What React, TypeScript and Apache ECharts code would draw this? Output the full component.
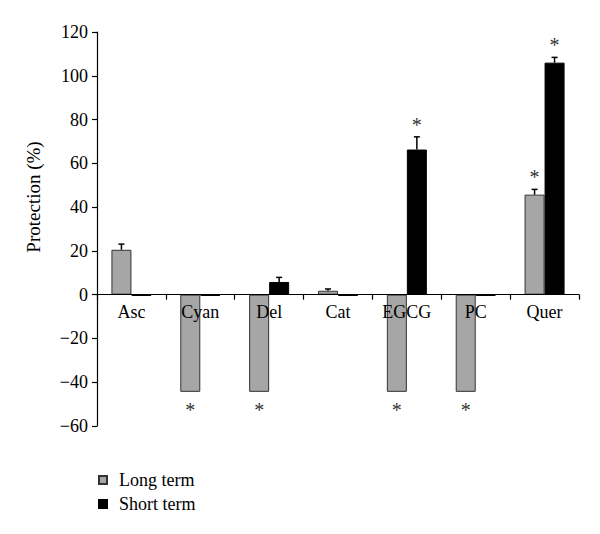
import React, { useEffect, useRef } from "react";
import * as echarts from "echarts";

const categories = ["Asc", "Cyan", "Del", "Cat", "EGCG", "PC", "Quer"];
const longTerm = [20.5, -44.4, -44.4, 1.8, -44.4, -44.4, 45.7];
const shortTerm = [-0.6, -0.6, 5.8, -0.6, 66.3, -0.6, 106.0];
const longErr = [2.6, 0, 0, 0.8, 0, 0, 2.4];
const shortErr = [0, 0, 2.1, 0, 5.8, 0, 2.4];
const longSig = [0, 1, 1, 0, 1, 1, 1];
const shortSig = [0, 0, 0, 0, 1, 0, 1];
const yTicks = { min: -60, max: 120, interval: 20 };

const FONT = "'Liberation Serif', 'DejaVu Serif', serif";
const GRID_TOP = 32;
const GRID_BOTTOM = 108;
const GRID_H = 534 - GRID_TOP - GRID_BOTTOM;
const zeroOffset = -(GRID_H * (0 - yTicks.min)) / (yTicks.max - yTicks.min);

function makeRender(offset: number) {
  return (params: any, api: any) => {
    const idx = api.value(0);
    const val = api.value(1);
    const err = api.value(2);
    const sig = api.value(3);
    const base = api.coord([idx, val]);
    const x = base[0] + offset;
    const yVal = base[1];
    const children: any[] = [];
    let yEnd = yVal;
    if (err > 0) {
      const endVal = val >= 0 ? val + err : val - err;
      const yErr = api.coord([idx, endVal])[1];
      yEnd = yErr;
      children.push({
        type: "line",
        shape: { x1: x, y1: yVal, x2: x, y2: yErr },
        style: { stroke: "#000", lineWidth: 1.5 },
      });
      children.push({
        type: "line",
        shape: { x1: x - 3, y1: yErr, x2: x + 3, y2: yErr },
        style: { stroke: "#000", lineWidth: 1.5 },
      });
    }
    if (sig) {
      const up = val >= 0;
      children.push({
        type: "text",
        x: x,
        y: up ? yEnd - 2 : yEnd + 8,
        style: {
          text: "*",
          font: `20px ${FONT}`,
          fill: "#333",
          align: "center",
          verticalAlign: up ? "bottom" : "top",
        },
      });
    }
    return { type: "group", children };
  };
}

export default function App() {
  const ref = useRef<HTMLDivElement>(null);
  useEffect(() => {
    if (!ref.current) return;
    const chart = echarts.init(ref.current, undefined, { renderer: "svg" });
    const longData = categories.map((_, i) => [i, longTerm[i], longErr[i], longSig[i]]);
    const shortData = categories.map((_, i) => [i, shortTerm[i], shortErr[i], shortSig[i]]);
    chart.setOption({
      animation: false,
      backgroundColor: "#fff",
      textStyle: { fontFamily: FONT },
      grid: { left: 97, right: 21, top: GRID_TOP, bottom: GRID_BOTTOM, containLabel: false },
      legend: {
        orient: "vertical",
        left: 93,
        top: 466,
        itemWidth: 8,
        itemHeight: 8,
        itemGap: 6,
        icon: "rect",
        textStyle: { fontSize: 18, color: "#000", fontFamily: FONT, padding: [0, 0, 0, 7] },
        data: ["Long term", "Short term"],
      },
      xAxis: {
        type: "category",
        data: categories,
        z: 5,
        position: "bottom",
        offset: zeroOffset,
        axisLine: { onZero: false, lineStyle: { color: "#000", width: 1.2 } },
        axisTick: { show: true, length: 5, lineStyle: { color: "#000", width: 1.2 } },
        axisLabel: { fontSize: 18, color: "#000", fontFamily: FONT, margin: 8 },
        splitLine: { show: false },
      },
      yAxis: {
        type: "value",
        min: yTicks.min,
        max: yTicks.max,
        interval: yTicks.interval,
        axisLine: { show: true, lineStyle: { color: "#000", width: 1.2 } },
        axisTick: { show: true, length: 5, lineStyle: { color: "#000", width: 1.2 } },
        axisLabel: {
          fontSize: 18,
          color: "#000",
          fontFamily: FONT,
          margin: 9,
          formatter: (v: number) => (v < 0 ? "\u2212" + Math.abs(v) : String(v)),
        },
        splitLine: { show: false },
      },
      graphic: [
        {
          type: "text",
          x: 33,
          y: 197,
          rotation: Math.PI / 2,
          style: {
            text: "Protection (%)",
            font: `19px ${FONT}`,
            fill: "#000",
            align: "center",
            verticalAlign: "middle",
          },
        },
      ],
      series: [
        {
          name: "Long term",
          type: "bar",
          data: longTerm,
          barWidth: 20,
          barGap: "0%",
          itemStyle: { color: "#a6a6a6", borderColor: "#333", borderWidth: 1 },
        },
        {
          name: "Short term",
          type: "bar",
          data: shortTerm,
          barWidth: 20,
          barGap: "0%",
          itemStyle: { color: "#000", borderColor: "#000", borderWidth: 1 },
        },
        {
          type: "custom",
          renderItem: makeRender(-10),
          data: longData,
          encode: { x: 0, y: 1 },
          z: 4,
          silent: true,
        },
        {
          type: "custom",
          renderItem: makeRender(10),
          data: shortData,
          encode: { x: 0, y: 1 },
          z: 4,
          silent: true,
        },
      ],
    });
    return () => chart.dispose();
  }, []);
  return (
    <div
      ref={ref}
      style={{ width: 600, height: 534, position: "absolute", left: 0, top: 0 }}
    />
  );
}
